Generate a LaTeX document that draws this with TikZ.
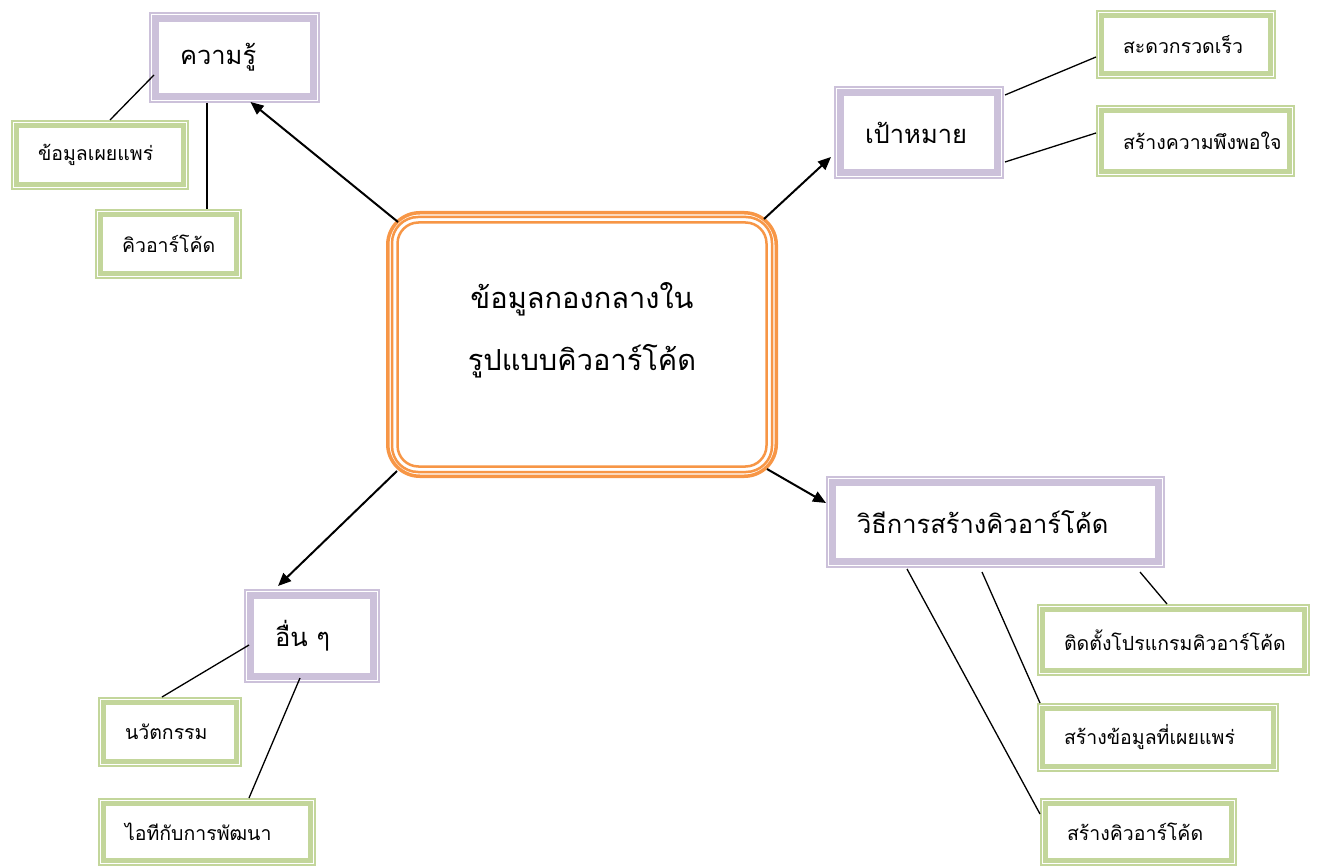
\documentclass[tikz,border=0pt]{standalone}
\usepackage{fontspec}
\setmainfont[Script=Thai]{Loma}
\usetikzlibrary{arrows.meta}
\definecolor{lav}{HTML}{CCC1DA}
\definecolor{olv}{HTML}{C3D69B}
\definecolor{org}{HTML}{F79646}
\newcommand{\pinner}[1]{\draw[lav, line width=7pt] ([shift={(6.5,6.5)}]#1.north west) rectangle ([shift={(-6.5,-6.5)}]#1.south east);}
\newcommand{\ginner}[1]{\draw[olv, line width=5pt] ([shift={(5.5,5.5)}]#1.north west) rectangle ([shift={(-5.5,-5.5)}]#1.south east);}
\begin{document}
\begin{tikzpicture}[x=1pt,y=-1pt,
  pbox/.style={draw=lav, line width=2pt, fill=white, align=left, inner xsep=30pt, inner ysep=0pt, font=\fontsize{25.5}{30}\selectfont},
  gbox/.style={draw=olv, line width=2pt, fill=white, align=left, inner xsep=26pt, inner ysep=0pt, font=\fontsize{19.5}{23}\selectfont},
  cbox/.style={draw=org, line width=3.5pt, rounded corners=32pt, fill=white},
  arr/.style={-{Triangle[length=13pt,width=11pt]}, line width=2pt, black},
  lnk/.style={line width=1.3pt, black}]
\useasboundingbox (0,0) rectangle (1335,866);
\node[cbox, minimum width=388.5pt, minimum height=263.5pt] (C) at (582,344.5) {};
\draw[org, line width=2.5pt, rounded corners=26pt] ([shift={(6,6)}]C.north west) rectangle ([shift={(-6,-6)}]C.south east);
\draw[org, line width=2.5pt, rounded corners=21pt] ([shift={(11.5,11.5)}]C.north west) rectangle ([shift={(-11.5,-11.5)}]C.south east);
\node[align=center, font=\fontsize{29}{62}\selectfont] (Ct) at ([yshift=14pt]C.center) {ข้อมูลกองกลางใน\\รูปแบบคิวอาร์โค้ด};

\node[pbox, text width=109pt, minimum height=89pt] (K) at (234.5,57.5) {ความรู้};
\node[pbox, text width=108pt, minimum height=91pt] (T) at (919,132.5) {เป้าหมาย};
\node[pbox, text width=277pt, minimum height=90pt] (M) at (995.5,522) {วิธีการสร้างคิวอาร์โค้ด};
\node[pbox, text width=74pt, minimum height=92pt] (O) at (312,636) {อื่น~ๆ};
\foreach \n in {K,T,M,O} {\pinner{\n}}

\node[gbox, text width=124pt, minimum height=68pt] (G1) at (100,155) {ข้อมูลเผยแพร่};
\node[gbox, text width=93pt, minimum height=68pt] (G2) at (168.5,244) {คิวอาร์โค้ด};
\node[gbox, text width=126pt, minimum height=67pt] (G3) at (1186,44.5) {สะดวกรวดเร็ว};
\node[gbox, text width=145pt, minimum height=70pt] (G4) at (1195.5,141) {สร้างความพึงพอใจ};
\node[gbox, text width=219pt, minimum height=70pt] (G5) at (1173.5,640) {ติดตั้งโปรแกรมคิวอาร์โค้ด};
\node[gbox, text width=188pt, minimum height=67pt] (G6) at (1158,737.5) {สร้างข้อมูลที่เผยแพร่};
\node[gbox, text width=143pt, minimum height=66pt] (G7) at (1138.5,832) {สร้างคิวอาร์โค้ด};
\node[gbox, text width=90pt, minimum height=68pt] (G8) at (170,732) {นวัตกรรม};
\node[gbox, text width=164pt, minimum height=66pt] (G9) at (207,832) {ไอทีกับการพัฒนา};
\foreach \n in {G1,G2,G3,G4,G5,G6,G7,G8,G9} {\ginner{\n}}

\draw[lnk] ([shift={(5,17.5)}]K.west) -- ([shift={(10,0)}]G1.north);
\draw[lnk] ([shift={(-27.5,0)}]K.south) -- ([shift={(38.5,0)}]G2.north);
\draw[lnk] ([shift={(1,-37.5)}]T.east) -- ([shift={(0,12.5)}]G3.west);
\draw[lnk] ([shift={(1,29.5)}]T.east) -- ([shift={(0,-8)}]G4.west);
\draw[lnk] ([shift={(144.5,4)}]M.south) -- ([shift={(-6.5,0)}]G5.north);
\draw[lnk] ([shift={(-13.5,4)}]M.south) -- ([shift={(3,0)}]G6.north west);
\draw[lnk] ([shift={(-88.5,1)}]M.south) -- ([shift={(0,16)}]G7.north west);
\draw[lnk] ([shift={(5,9)}]O.west) -- ([shift={(-8,0)}]G8.north);
\draw[lnk] ([shift={(-12,-5)}]O.south) -- ([shift={(42,0)}]G9.north);

\draw[arr] ([shift={(12,11)}]C.north west) -- ([shift={(16,-1)}]K.south);
\draw[arr] ([shift={(-14,8)}]C.north east) -- ([shift={(-3,24.5)}]T.west);
\draw[arr] ([shift={(-11,-9)}]C.south east) -- ([shift={(0,-19)}]M.west);
\draw[arr] ([shift={(11,-7)}]C.south west) -- ([shift={(-34,-3)}]O.north);
\end{tikzpicture}
\end{document}
